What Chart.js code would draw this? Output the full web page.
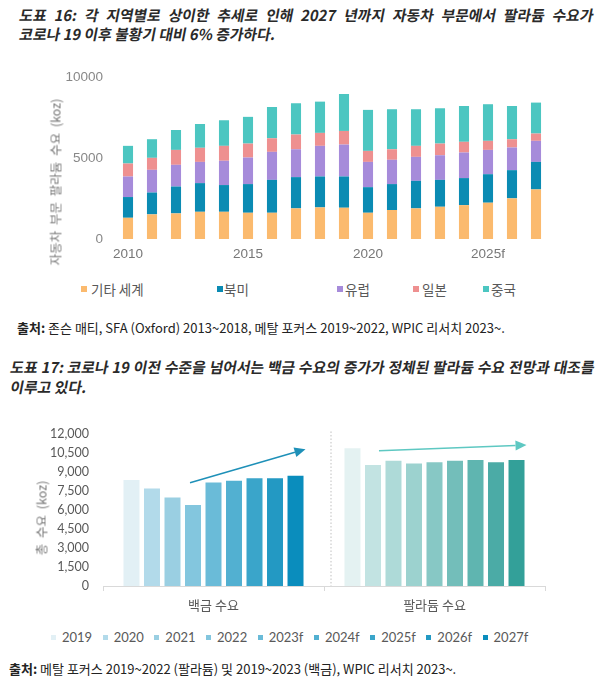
<!DOCTYPE html>
<html>
<head>
<meta charset="utf-8">
<script src="https://cdn.jsdelivr.net/npm/chart.js@4"></script>
<style>
  body { margin: 0; width: 600px; height: 681px; background: #fff; position: relative; overflow: hidden;
         font-family: "Noto Sans CJK KR", sans-serif; color: #222; }
  .abs { position: absolute; white-space: nowrap; }
  .title { font-weight: bold; font-size: 14.8px; line-height: 19px; color: #2a2a2a;
           transform: skewX(-11deg); transform-origin: 0 100%; }
  .just { text-align: justify; text-align-last: justify; white-space: normal; }
  .src { font-size: 13px; color: #222; }
  .src b { font-weight: bold; }
  .ytitle { transform: translate(-50%, -50%) rotate(-90deg); color: #777; font-size: 12.5px; word-spacing: 3px; }
  .leg { font-size: 13.5px; color: #595959; display: flex; align-items: center; }
  .leg i { display: inline-block; width: 6px; height: 6px; }
  #leg2 .leg { font-family: Lato, sans-serif; font-size: 13px; margin-right: 10.5px; }
  #leg2 .leg i { width: 5px; height: 5px; margin-right: 6px; }
</style>
</head>
<body>
<div class="abs title just" style="left:18px; top:5px; width:574px;">도표 16: 각 지역별로 상이한 추세로 인해 2027 년까지 자동차 부문에서 팔라듐 수요가</div>
<div class="abs title" style="left:18px; top:24px;">코로나 19 이후 불황기 대비 6% 증가하다.</div>

<canvas id="c1" class="abs" style="left:0; top:60px;" width="560" height="210"></canvas>
<div class="abs ytitle" style="left:55px; top:182px;">자동차 부문 팔라듐 수요 (koz)</div>
<div id="leg1"></div>
<div class="abs src" style="left:17px; top:318px;"><b>출처:</b> 존슨 매티, SFA (Oxford) 2013~2018, 메탈 포커스 2019~2022, WPIC 리서치 2023~.</div>

<div class="abs title just" style="left:9px; top:357px; width:584px;">도표 17: 코로나 19 이전 수준을 넘어서는 백금 수요의 증가가 정체된 팔라듐 수요 전망과 대조를</div>
<div class="abs title" style="left:9px; top:377px;">이루고 있다.</div>

<canvas id="c2" class="abs" style="left:0; top:420px;" width="560" height="200"></canvas>
<div class="abs ytitle" style="left:41px; top:518px;">총 수요 (koz)</div>
<div id="leg2" class="abs" style="left:51px; top:629px; display:flex;"></div>
<div class="abs src" style="left:9px; top:659px;"><b>출처:</b> 메탈 포커스 2019~2022 (팔라듐) 및 2019~2023 (백금), WPIC 리서치 2023~.</div>

<script>
// chart 1: automotive palladium demand by region (koz)
const years1 = ['2010','2011','2012','2013','2014','2015','2016','2017','2018','2019','2020','2021','2022','2023f','2024f','2025f','2026f','2027f'];
const regionNames = ['기타 세계', '북미', '유럽', '일본', '중국'];
const regionColors = ['#FBBA6E', '#0B8BB3', '#A68BDA', '#EE9090', '#4CC6C1'];
const restOfWorld = [1310,1520,1580,1680,1680,1620,1620,1890,1950,1930,1620,1790,1890,1990,2090,2240,2510,3060];
const northAmerica = [1280,1350,1660,1770,1650,1770,2030,1930,1910,1930,1580,1600,1700,1660,1670,1760,1740,1700];
const europe = [1270,1400,1340,1310,1500,1640,1730,1720,1890,1970,1560,1500,1480,1520,1580,1500,1400,1300];
const japan = [800,740,920,870,920,860,840,910,800,840,680,650,680,720,660,560,510,450];
const china = [1090,1150,1230,1470,1580,1650,1930,1930,1930,2280,2530,2470,2260,2180,2210,2260,2050,1910];
const yTicks1 = [0, 5000, 10000];
const legend1Left = [81, 217, 337, 413, 483];
const legend1Gap = [10, 7, 8, 9, 8];

// chart 2: total demand, platinum vs palladium (koz)
const groups2 = ['백금 수요', '팔라듐 수요'];
const years2 = ['2019','2020','2021','2022','2023f','2024f','2025f','2026f','2027f'];
const platinum = [8360,7700,6990,6390,8180,8310,8500,8500,8710];
const palladium = [10870,9550,9890,9680,9760,9890,9950,9760,9950];
const blueShades = ['#E2F0F5','#B2DAEA','#9ACFE2','#83C6DE','#6ABBD8','#52B0D1','#3AA5CA','#2399C3','#0A8DBD'];
const tealShades = ['#E4F2F2','#C2E3E2','#AEDAD8','#9CD2CF','#87C8C5','#73BEBA','#5FB5B0','#4BABA6','#33A099'];
const yTicks2 = [0,1500,3000,4500,6000,7500,9000,10500,12000];
// trend arrows: [dataset index, value] for start and end, per group
const platArrow = [[3, 8150], [8, 10800]];
const pallArrow = [[1, 10680], [8, 11130]];

const regionData = [restOfWorld, northAmerica, europe, japan, china];

// legends
const leg1 = document.getElementById('leg1');
regionNames.forEach((name, i) => {
    const d = document.createElement('div');
    d.className = 'abs leg';
    d.style.left = legend1Left[i] + 'px';
    d.style.top = '279px';
    d.innerHTML = `<i style="background:${regionColors[i]};margin-right:${legend1Gap[i] - 6}px"></i>${name}`;
    leg1.appendChild(d);
});
const leg2 = document.getElementById('leg2');
years2.forEach((y, i) => {
    const d = document.createElement('div');
    d.className = 'leg';
    d.innerHTML = `<i style="background:${blueShades[i]}"></i>${y}`;
    leg2.appendChild(d);
});

new Chart(document.getElementById('c1'), {
    type: 'bar',
    data: {
        labels: years1,
        datasets: regionNames.map((name, i) => ({
            label: name,
            data: regionData[i],
            backgroundColor: regionColors[i],
            categoryPercentage: 0.42,
            barPercentage: 1
        }))
    },
    options: {
        responsive: false,
        animation: false,
        layout: { padding: { top: 17, right: 12 } },
        plugins: { legend: { display: false }, tooltip: { enabled: false } },
        scales: {
            x: {
                stacked: true,
                grid: { display: false, drawTicks: false },
                border: { display: false },
                afterFit: s => { s.height = 31; },
                ticks: {
                    color: '#777', font: { family: 'Liberation Sans', size: 13.5 }, padding: 7,
                    maxRotation: 0, autoSkip: false,
                    callback: (v, i) => i % 5 === 0 ? years1[i] : ''
                }
            },
            y: {
                stacked: true,
                min: 0, max: 10000,
                grid: { display: false },
                border: { display: false },
                afterFit: s => { s.width = 116; },
                afterBuildTicks: s => { s.ticks = yTicks1.map(v => ({ value: v })); },
                ticks: { color: '#888', font: { family: 'Liberation Sans', size: 13.5 }, padding: 5,
                         callback: v => String(v) }
            }
        }
    }
});

const divider = {
    id: 'divider',
    afterDatasetsDraw(chart) {
        const { ctx, scales: { x, y } } = chart;
        const xm = (x.getPixelForValue(0) + x.getPixelForValue(1)) / 2 + 7;
        ctx.save();
        ctx.strokeStyle = '#BFBFBF';
        ctx.lineWidth = 1;
        ctx.setLineDash([1.5, 2]);
        ctx.beginPath();
        ctx.moveTo(xm, y.getPixelForValue(12200));
        ctx.lineTo(xm, y.getPixelForValue(0));
        ctx.stroke();
        ctx.restore();

        const drawArrow = (pts, group, color) => {
            const b0 = chart.getDatasetMeta(pts[0][0]).data[group];
            const b1 = chart.getDatasetMeta(pts[1][0]).data[group];
            const x0 = b0.x + (group === 1 ? 6 : -3), y0 = y.getPixelForValue(pts[0][1]);
            const x1 = b1.x + b1.width / 2 + 2, y1 = y.getPixelForValue(pts[1][1]);
            const a = Math.atan2(y1 - y0, x1 - x0);
            const L = 11, W = 5;
            ctx.save();
            ctx.strokeStyle = color;
            ctx.fillStyle = color;
            ctx.lineWidth = 1.5;
            ctx.beginPath();
            ctx.moveTo(x0, y0);
            ctx.lineTo(x1 - L * Math.cos(a), y1 - L * Math.sin(a));
            ctx.stroke();
            ctx.beginPath();
            ctx.moveTo(x1, y1);
            ctx.lineTo(x1 - L * Math.cos(a) + W * Math.sin(a), y1 - L * Math.sin(a) - W * Math.cos(a));
            ctx.lineTo(x1 - L * Math.cos(a) - W * Math.sin(a), y1 - L * Math.sin(a) + W * Math.cos(a));
            ctx.closePath();
            ctx.fill();
            ctx.restore();
        };
        drawArrow(platArrow, 0, '#1E90B8');
        drawArrow(pallArrow, 1, '#5EC8C2');
    }
};

new Chart(document.getElementById('c2'), {
    type: 'bar',
    data: {
        labels: groups2,
        datasets: years2.map((yr, i) => ({
            label: yr,
            data: [platinum[i], palladium[i]],
            backgroundColor: [blueShades[i], tealShades[i]],
            categoryPercentage: 0.835,
            barPercentage: 0.78
        }))
    },
    options: {
        responsive: false,
        animation: false,
        layout: { padding: { top: 14, right: 15 } },
        plugins: { legend: { display: false }, tooltip: { enabled: false } },
        scales: {
            x: {
                grid: { display: true, drawOnChartArea: false, drawTicks: true, tickLength: 5, color: '#D9D9D9' },
                border: { display: true, color: '#D9D9D9' },
                afterFit: s => { s.height = 34; },
                ticks: { color: '#595959', font: { family: 'Noto Sans CJK KR', size: 13 }, padding: 6 }
            },
            y: {
                min: 0, max: 12000,
                grid: { display: false },
                border: { display: false },
                afterFit: s => { s.width = 103; },
                afterBuildTicks: s => { s.ticks = yTicks2.map(v => ({ value: v })); },
                ticks: {
                    color: '#595959', font: { family: 'Lato', size: 12.5 }, padding: 6,
                    callback: v => v.toLocaleString('en-US')
                }
            }
        }
    },
    plugins: [divider]
});
</script>
</body>
</html>
